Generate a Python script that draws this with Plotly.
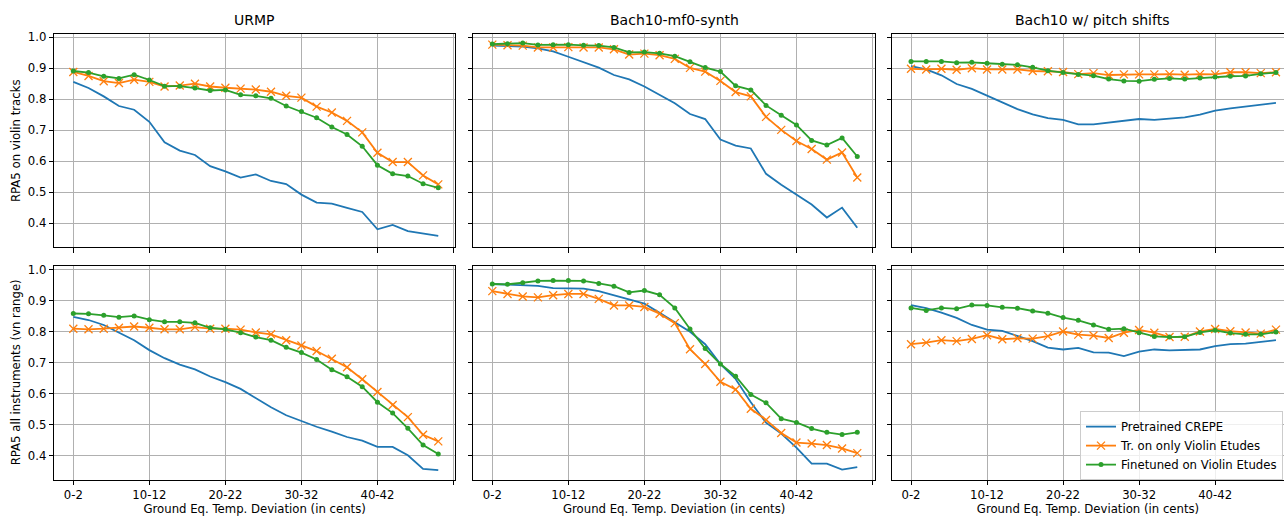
import plotly.graph_objects as go

categories = [f"{2*i}-{2*i+2}" for i in range(25)]

series_names = ["Pretrained CREPE", "Tr. on only Violin Etudes", "Finetuned on Violin Etudes"]
panel_titles = ["URMP", "Bach10-mf0-synth", "Bach10 w/ pitch shifts"]
row_labels = ["RPA5 on violin tracks", "RPA5 all instruments (vn range)"]
x_title = "Ground Eq. Temp. Deviation (in cents)"

# Top row: RPA5 on violin tracks
urmp_vn_pre = [0.856, 0.836, 0.809, 0.778, 0.766, 0.727, 0.661, 0.634, 0.620, 0.584, 0.567, 0.547, 0.557,
               0.536, 0.526, 0.492, 0.466, 0.463, 0.449, 0.436, 0.380, 0.394, 0.374, 0.366, 0.359]
urmp_vn_tr = [0.888, 0.875, 0.858, 0.852, 0.863, 0.856, 0.841, 0.844, 0.850, 0.841, 0.837, 0.834, 0.831,
              0.824, 0.811, 0.805, 0.776, 0.757, 0.730, 0.693, 0.627, 0.597, 0.597, 0.554, 0.525]
urmp_vn_ft = [0.891, 0.886, 0.874, 0.867, 0.879, 0.862, 0.842, 0.842, 0.836, 0.828, 0.830, 0.814, 0.811,
              0.803, 0.778, 0.760, 0.740, 0.710, 0.686, 0.648, 0.587, 0.559, 0.552, 0.527, 0.514]

synth_vn_pre = [0.973, 0.971, 0.970, 0.964, 0.954, 0.937, 0.920, 0.902, 0.878, 0.864, 0.841, 0.813, 0.787,
                0.752, 0.736, 0.670, 0.650, 0.641, 0.559, 0.524, 0.493, 0.460, 0.418, 0.450, 0.385]
synth_vn_tr = [0.976, 0.974, 0.973, 0.967, 0.967, 0.968, 0.967, 0.967, 0.961, 0.944, 0.947, 0.942, 0.930,
               0.901, 0.889, 0.859, 0.823, 0.809, 0.743, 0.701, 0.665, 0.639, 0.605, 0.628, 0.547]
synth_vn_ft = [0.978, 0.979, 0.981, 0.975, 0.976, 0.976, 0.974, 0.973, 0.967, 0.951, 0.952, 0.948, 0.939,
               0.921, 0.902, 0.889, 0.843, 0.830, 0.780, 0.748, 0.717, 0.667, 0.652, 0.675, 0.615]

shift_vn_pre = [0.907, 0.896, 0.877, 0.849, 0.833, 0.812, 0.791, 0.768, 0.751, 0.739, 0.733, 0.719, 0.719,
                0.725, 0.730, 0.736, 0.733, 0.736, 0.741, 0.750, 0.763, 0.770, 0.776, 0.783, 0.788]
shift_vn_tr = [0.898, 0.896, 0.898, 0.895, 0.900, 0.896, 0.896, 0.896, 0.891, 0.890, 0.888, 0.881, 0.884,
               0.878, 0.880, 0.880, 0.880, 0.881, 0.879, 0.881, 0.880, 0.887, 0.887, 0.884, 0.887]
shift_vn_ft = [0.922, 0.922, 0.922, 0.918, 0.919, 0.916, 0.913, 0.911, 0.903, 0.892, 0.886, 0.880, 0.876,
               0.865, 0.859, 0.858, 0.864, 0.867, 0.865, 0.868, 0.872, 0.874, 0.875, 0.882, 0.886]

# Bottom row: RPA5 all instruments (vn range)
urmp_all_pre = [0.848, 0.838, 0.822, 0.797, 0.773, 0.741, 0.715, 0.694, 0.679, 0.656, 0.638, 0.616, 0.587,
                0.557, 0.531, 0.512, 0.494, 0.478, 0.461, 0.449, 0.429, 0.429, 0.402, 0.358, 0.354]
urmp_all_tr = [0.810, 0.808, 0.810, 0.813, 0.817, 0.813, 0.808, 0.808, 0.815, 0.810, 0.810, 0.807, 0.798,
               0.792, 0.773, 0.756, 0.738, 0.713, 0.686, 0.647, 0.606, 0.564, 0.525, 0.468, 0.447]
urmp_all_ft = [0.859, 0.858, 0.853, 0.847, 0.851, 0.839, 0.832, 0.832, 0.829, 0.813, 0.808, 0.797, 0.783,
               0.773, 0.750, 0.733, 0.711, 0.678, 0.655, 0.623, 0.573, 0.538, 0.489, 0.435, 0.406]

synth_all_pre = [0.954, 0.952, 0.952, 0.948, 0.941, 0.941, 0.939, 0.931, 0.918, 0.904, 0.891, 0.861, 0.831,
                 0.800, 0.760, 0.696, 0.648, 0.573, 0.507, 0.472, 0.427, 0.375, 0.375, 0.356, 0.364]
synth_all_tr = [0.931, 0.922, 0.914, 0.911, 0.918, 0.922, 0.922, 0.906, 0.885, 0.885, 0.880, 0.858, 0.828,
                0.744, 0.696, 0.639, 0.614, 0.552, 0.516, 0.474, 0.443, 0.440, 0.435, 0.424, 0.409]
synth_all_ft = [0.954, 0.953, 0.958, 0.964, 0.965, 0.965, 0.964, 0.956, 0.947, 0.927, 0.933, 0.919, 0.877,
                0.809, 0.746, 0.696, 0.657, 0.598, 0.571, 0.520, 0.508, 0.488, 0.476, 0.469, 0.476]

shift_all_pre = [0.886, 0.876, 0.862, 0.845, 0.822, 0.807, 0.803, 0.786, 0.770, 0.749, 0.743, 0.748, 0.734,
                 0.733, 0.722, 0.736, 0.743, 0.740, 0.741, 0.743, 0.754, 0.760, 0.762, 0.767, 0.773]
shift_all_tr = [0.760, 0.765, 0.773, 0.770, 0.777, 0.789, 0.776, 0.779, 0.778, 0.786, 0.801, 0.791, 0.788,
                0.780, 0.797, 0.806, 0.797, 0.783, 0.784, 0.801, 0.809, 0.802, 0.798, 0.794, 0.807]
shift_all_ft = [0.877, 0.869, 0.877, 0.874, 0.886, 0.885, 0.879, 0.876, 0.867, 0.860, 0.846, 0.837, 0.822,
                0.808, 0.810, 0.797, 0.785, 0.783, 0.784, 0.798, 0.805, 0.796, 0.792, 0.792, 0.799]

panels = [
    [(urmp_vn_pre, urmp_vn_tr, urmp_vn_ft), (synth_vn_pre, synth_vn_tr, synth_vn_ft), (shift_vn_pre, shift_vn_tr, shift_vn_ft)],
    [(urmp_all_pre, urmp_all_tr, urmp_all_ft), (synth_all_pre, synth_all_tr, synth_all_ft), (shift_all_pre, shift_all_tr, shift_all_ft)],
]

W, H = 1284, 517
FONT = "DejaVu Sans"
colors = ["#1f77b4", "#ff7f0e", "#2ca02c"]

x_idx = list(range(len(categories)))
tick_vals = list(range(0, len(categories) + 1, 5))
tick_text = [categories[i] if i < len(categories) else "" for i in tick_vals]

col_px = [(54.3, 455.0), (473.3, 875.0), (892.0, 1284.0)]
row_px = [(31.0, 245.7), (264.7, 479.3)]
px_per_unit = (455.0 - 54.3) / 26.35
x_left = -1.25
y_ranges = [[0.322, 1.011], [0.324, 1.0115]]

fig = go.Figure()

for r in range(2):
    for c in range(3):
        k = r * 3 + c + 1
        xa = "x" if k == 1 else f"x{k}"
        ya = "y" if k == 1 else f"y{k}"
        pre, tr, ft = panels[r][c]
        show = (r == 1 and c == 2)
        fig.add_trace(go.Scatter(x=x_idx, y=pre, mode="lines", name=series_names[0],
                                 line=dict(color=colors[0], width=1.8), xaxis=xa, yaxis=ya,
                                 showlegend=show))
        fig.add_trace(go.Scatter(x=x_idx, y=tr, mode="lines+markers", name=series_names[1],
                                 line=dict(color=colors[1], width=1.8),
                                 marker=dict(symbol="x-thin", size=8, color=colors[1],
                                             line=dict(color=colors[1], width=1.3)),
                                 xaxis=xa, yaxis=ya, showlegend=show))
        fig.add_trace(go.Scatter(x=x_idx, y=ft, mode="lines+markers", name=series_names[2],
                                 line=dict(color=colors[2], width=1.8),
                                 marker=dict(symbol="circle", size=5, color=colors[2]),
                                 xaxis=xa, yaxis=ya, showlegend=show))

        x0, x1 = col_px[c]
        y0, y1 = row_px[r]
        x_right = x_left + (x1 - x0) / px_per_unit
        xkey = "xaxis" if k == 1 else f"xaxis{k}"
        ykey = "yaxis" if k == 1 else f"yaxis{k}"
        fig.layout[xkey] = dict(
            domain=[x0 / W, min(x1 / W, 1.0)], anchor=ya, range=[x_left, x_right],
            tickmode="array", tickvals=tick_vals, ticktext=tick_text,
            showticklabels=(r == 1), ticks="outside", ticklen=4.5, tickwidth=1, tickcolor="black",
            showline=True, mirror=True, linecolor="black", linewidth=1,
            showgrid=True, gridcolor="#b0b0b0", gridwidth=0.8, zeroline=False,
            tickfont=dict(family=FONT, size=11.7, color="black"),
            title=dict(text=x_title if r == 1 else "", font=dict(family=FONT, size=11.7, color="black"),
                       standoff=2),
        )
        fig.layout[ykey] = dict(
            domain=[1 - y1 / H, 1 - y0 / H], anchor=xa, range=y_ranges[r],
            tickmode="array", tickvals=[0.4, 0.5, 0.6, 0.7, 0.8, 0.9, 1.0],
            ticktext=["0.4", "0.5", "0.6", "0.7", "0.8", "0.9", "1.0"],
            showticklabels=(c == 0), ticks="outside", ticklen=4.5, tickwidth=1, tickcolor="black",
            showline=True, mirror=(c != 2), linecolor="black", linewidth=1,
            showgrid=True, gridcolor="#b0b0b0", gridwidth=0.8, zeroline=False,
            tickfont=dict(family=FONT, size=11.7, color="black"),
        )

annotations = []
for c in range(3):
    x0, x1 = col_px[c]
    cx = (x0 + 455.0 - 54.3 + x0) / 2 if c == 2 else (x0 + x1) / 2
    annotations.append(dict(text=panel_titles[c], x=cx / W, y=1 - 17.5 / H, xref="paper", yref="paper",
                            xanchor="center", yanchor="middle", showarrow=False,
                            font=dict(family=FONT, size=14, color="black")))
for r in range(2):
    y0, y1 = row_px[r]
    annotations.append(dict(text=row_labels[r], x=15.5 / W, y=1 - (y0 + y1) / 2 / H, xref="paper", yref="paper",
                            xanchor="center", yanchor="middle", textangle=-90, showarrow=False,
                            font=dict(family=FONT, size=11.7, color="black")))

fig.update_layout(
    width=W, height=H,
    margin=dict(l=0, r=0, t=0, b=0),
    paper_bgcolor="white", plot_bgcolor="white",
    annotations=annotations,
    showlegend=True,
    legend=dict(x=1080 / W, y=1 - 410.5 / H, xanchor="left", yanchor="top",
                bgcolor="rgba(255,255,255,0.8)", bordercolor="#cccccc", borderwidth=1,
                font=dict(family=FONT, size=11.7, color="black"), tracegroupgap=0,
                itemwidth=30),
    font=dict(family=FONT, color="black"),
)

fig.write_html("out.html", config={"displayModeBar": False},
               post_script="document.body.style.margin='0';document.body.style.overflow='hidden';")
